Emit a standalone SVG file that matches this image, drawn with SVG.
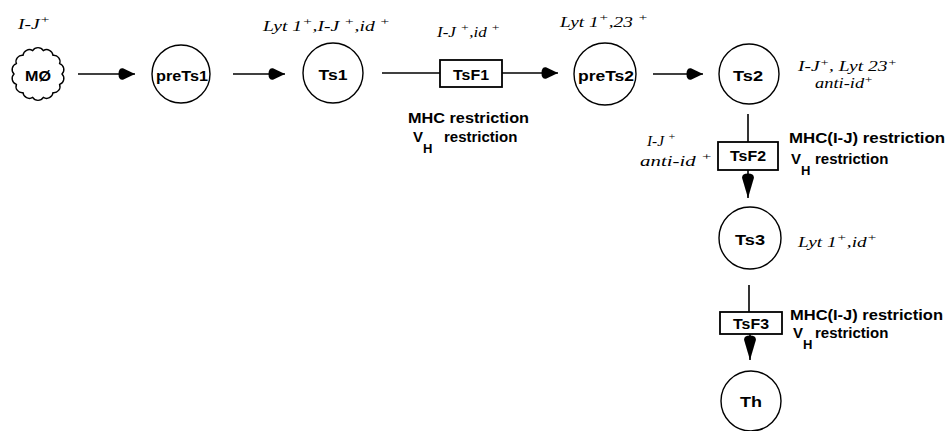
<svg xmlns="http://www.w3.org/2000/svg" width="952" height="431" viewBox="0 0 952 431">
<style>
  .node { fill: none; stroke: #000; stroke-width: 1.4; }
  .box { fill: #fff; stroke: #000; stroke-width: 1.8; }
  .lbl { font-family: "Liberation Sans", Arial, sans-serif; font-weight: bold; font-size: 15px; fill: #000; text-anchor: middle; dominant-baseline: central; }
  .note { font-family: "Liberation Serif", "Times New Roman", serif; font-style: italic; font-size: 14px; fill: #000; }
  .restr { font-family: "Liberation Sans", Arial, sans-serif; font-weight: bold; font-size: 15px; fill: #000; }
  .conn { fill: none; stroke: #000; stroke-width: 1.6; }
</style>
<defs>
  <marker id="arrowH" markerUnits="userSpaceOnUse" markerWidth="18" markerHeight="13" refX="17" refY="6.5" orient="auto">
    <path d="M17,6.5 L5,0.8 Q0.5,0.3 0.5,6.5 Q0.5,12.7 5,12.2 Z" fill="#000"/>
  </marker>
  <marker id="arrowV" markerUnits="userSpaceOnUse" markerWidth="26" markerHeight="13" refX="25" refY="6.5" orient="auto">
    <path d="M25,6.5 L5,0.6 Q0.5,0.3 0.5,6.5 Q0.5,12.7 5,12.4 Z" fill="#000"/>
  </marker>
</defs>

<g id="connectors">
  <line class="conn" x1="78" y1="74" x2="135" y2="74" marker-end="url(#arrowH)"/>
  <line class="conn" x1="233" y1="74" x2="285" y2="74" marker-end="url(#arrowH)"/>
  <line class="conn" x1="382" y1="73" x2="440" y2="73"/>
  <line class="conn" x1="502" y1="73" x2="558" y2="73" marker-end="url(#arrowH)"/>
  <line class="conn" x1="653" y1="74" x2="703" y2="74" marker-end="url(#arrowH)"/>
  <line class="conn" x1="748" y1="114" x2="748" y2="142"/>
  <line class="conn" x1="748" y1="170" x2="748" y2="198" marker-end="url(#arrowV)"/>
  <line class="conn" x1="749" y1="285" x2="749" y2="312"/>
  <line class="conn" x1="750" y1="333" x2="750" y2="360" marker-end="url(#arrowV)"/>
</g>

<g id="MO">
  <path class="node" d="M62,74 A6.3,6.3 0 0 1 59.62,84.41 A6.3,6.3 0 0 1 52.96,92.76 A6.3,6.3 0 0 1 43.34,97.40 A6.3,6.3 0 0 1 32.66,97.40 A6.3,6.3 0 0 1 23.04,92.76 A6.3,6.3 0 0 1 16.38,84.41 A6.3,6.3 0 0 1 14,74 A6.3,6.3 0 0 1 16.38,63.59 A6.3,6.3 0 0 1 23.04,55.24 A6.3,6.3 0 0 1 32.66,50.60 A6.3,6.3 0 0 1 43.34,50.60 A6.3,6.3 0 0 1 52.96,55.24 A6.3,6.3 0 0 1 59.62,63.59 A6.3,6.3 0 0 1 62,74 Z"/>
  <text class="lbl" x="38" y="75" textLength="26" lengthAdjust="spacingAndGlyphs">MØ</text>
  <text class="note" x="18" y="29" textLength="32" lengthAdjust="spacingAndGlyphs">I-J<tspan dy="-6" font-size="11">+</tspan></text>
</g>

<g id="preTs1">
  <circle class="node" cx="181" cy="74" r="29"/>
  <text class="lbl" x="182" y="75" textLength="52" lengthAdjust="spacingAndGlyphs">preTs1</text>
</g>

<g id="Ts1">
  <circle class="node" cx="333" cy="73" r="30"/>
  <text class="lbl" x="333" y="74" textLength="29" lengthAdjust="spacingAndGlyphs">Ts1</text>
  <text class="note" x="263" y="31" textLength="127" lengthAdjust="spacingAndGlyphs">Lyt 1<tspan dy="-6" font-size="11">+</tspan><tspan dy="6">,I-J </tspan><tspan dy="-6" font-size="11">+</tspan><tspan dy="6">,id </tspan><tspan dy="-6" font-size="11">+</tspan></text>
</g>

<g id="TsF1">
  <rect class="box" x="440" y="60" width="62" height="27"/>
  <text class="lbl" x="471" y="74" textLength="36" lengthAdjust="spacingAndGlyphs">TsF1</text>
  <text class="note" x="437" y="37" textLength="63" lengthAdjust="spacingAndGlyphs">I-J <tspan dy="-6" font-size="11">+</tspan><tspan dy="6">,id </tspan><tspan dy="-6" font-size="11">+</tspan></text>
  <text class="restr" x="408" y="123" textLength="121" lengthAdjust="spacingAndGlyphs">MHC restriction</text>
  <text class="restr" x="413" y="142">V<tspan dy="11" font-size="13">H</tspan><tspan x="444" dy="-11">restriction</tspan></text>
</g>

<g id="preTs2">
  <circle class="node" cx="605" cy="74" r="31"/>
  <text class="lbl" x="606" y="75" textLength="56" lengthAdjust="spacingAndGlyphs">preTs2</text>
  <text class="note" x="560" y="27" textLength="88" lengthAdjust="spacingAndGlyphs">Lyt 1<tspan dy="-6" font-size="11">+</tspan><tspan dy="6">,23 </tspan><tspan dy="-6" font-size="11">+</tspan></text>
</g>

<g id="Ts2">
  <circle class="node" cx="749" cy="74" r="30"/>
  <text class="lbl" x="748" y="75" textLength="30" lengthAdjust="spacingAndGlyphs">Ts2</text>
  <text class="note" x="798" y="71" textLength="99" lengthAdjust="spacingAndGlyphs">I-J<tspan dy="-5" font-size="10">+</tspan><tspan dy="5">, Lyt 23</tspan><tspan dy="-5" font-size="10">+</tspan></text>
  <text class="note" x="815" y="88" textLength="58" lengthAdjust="spacingAndGlyphs">anti-id<tspan dy="-5" font-size="10">+</tspan></text>
</g>

<g id="TsF2">
  <rect class="box" x="718" y="142" width="60" height="28"/>
  <text class="lbl" x="748" y="155" textLength="36" lengthAdjust="spacingAndGlyphs">TsF2</text>
  <text class="note" x="647" y="146" textLength="29" lengthAdjust="spacingAndGlyphs">I-J <tspan dy="-6" font-size="11">+</tspan></text>
  <text class="note" x="640" y="166" textLength="72" lengthAdjust="spacingAndGlyphs">anti-id <tspan dy="-6" font-size="11">+</tspan></text>
  <text class="restr" x="789" y="143" textLength="156" lengthAdjust="spacingAndGlyphs">MHC(I-J) restriction</text>
  <text class="restr" x="791" y="164">V<tspan dy="11" font-size="13">H</tspan><tspan x="815" dy="-11">restriction</tspan></text>
</g>

<g id="Ts3">
  <circle class="node" cx="750" cy="238" r="31"/>
  <text class="lbl" x="750" y="239" textLength="30" lengthAdjust="spacingAndGlyphs">Ts3</text>
  <text class="note" x="798" y="247" textLength="79" lengthAdjust="spacingAndGlyphs">Lyt 1<tspan dy="-6" font-size="11">+</tspan><tspan dy="6">,id</tspan><tspan dy="-6" font-size="11">+</tspan></text>
</g>

<g id="TsF3">
  <rect class="box" x="720" y="312" width="62" height="22"/>
  <text class="lbl" x="751" y="323" textLength="36" lengthAdjust="spacingAndGlyphs">TsF3</text>
  <text class="restr" x="790" y="320" textLength="153" lengthAdjust="spacingAndGlyphs">MHC(I-J) restriction</text>
  <text class="restr" x="793" y="338">V<tspan dy="11" font-size="13">H</tspan><tspan x="815" dy="-11">restriction</tspan></text>
</g>

<g id="Th">
  <circle class="node" cx="751" cy="401" r="30"/>
  <text class="lbl" x="751" y="401" textLength="22" lengthAdjust="spacingAndGlyphs">Th</text>
</g>
</svg>
